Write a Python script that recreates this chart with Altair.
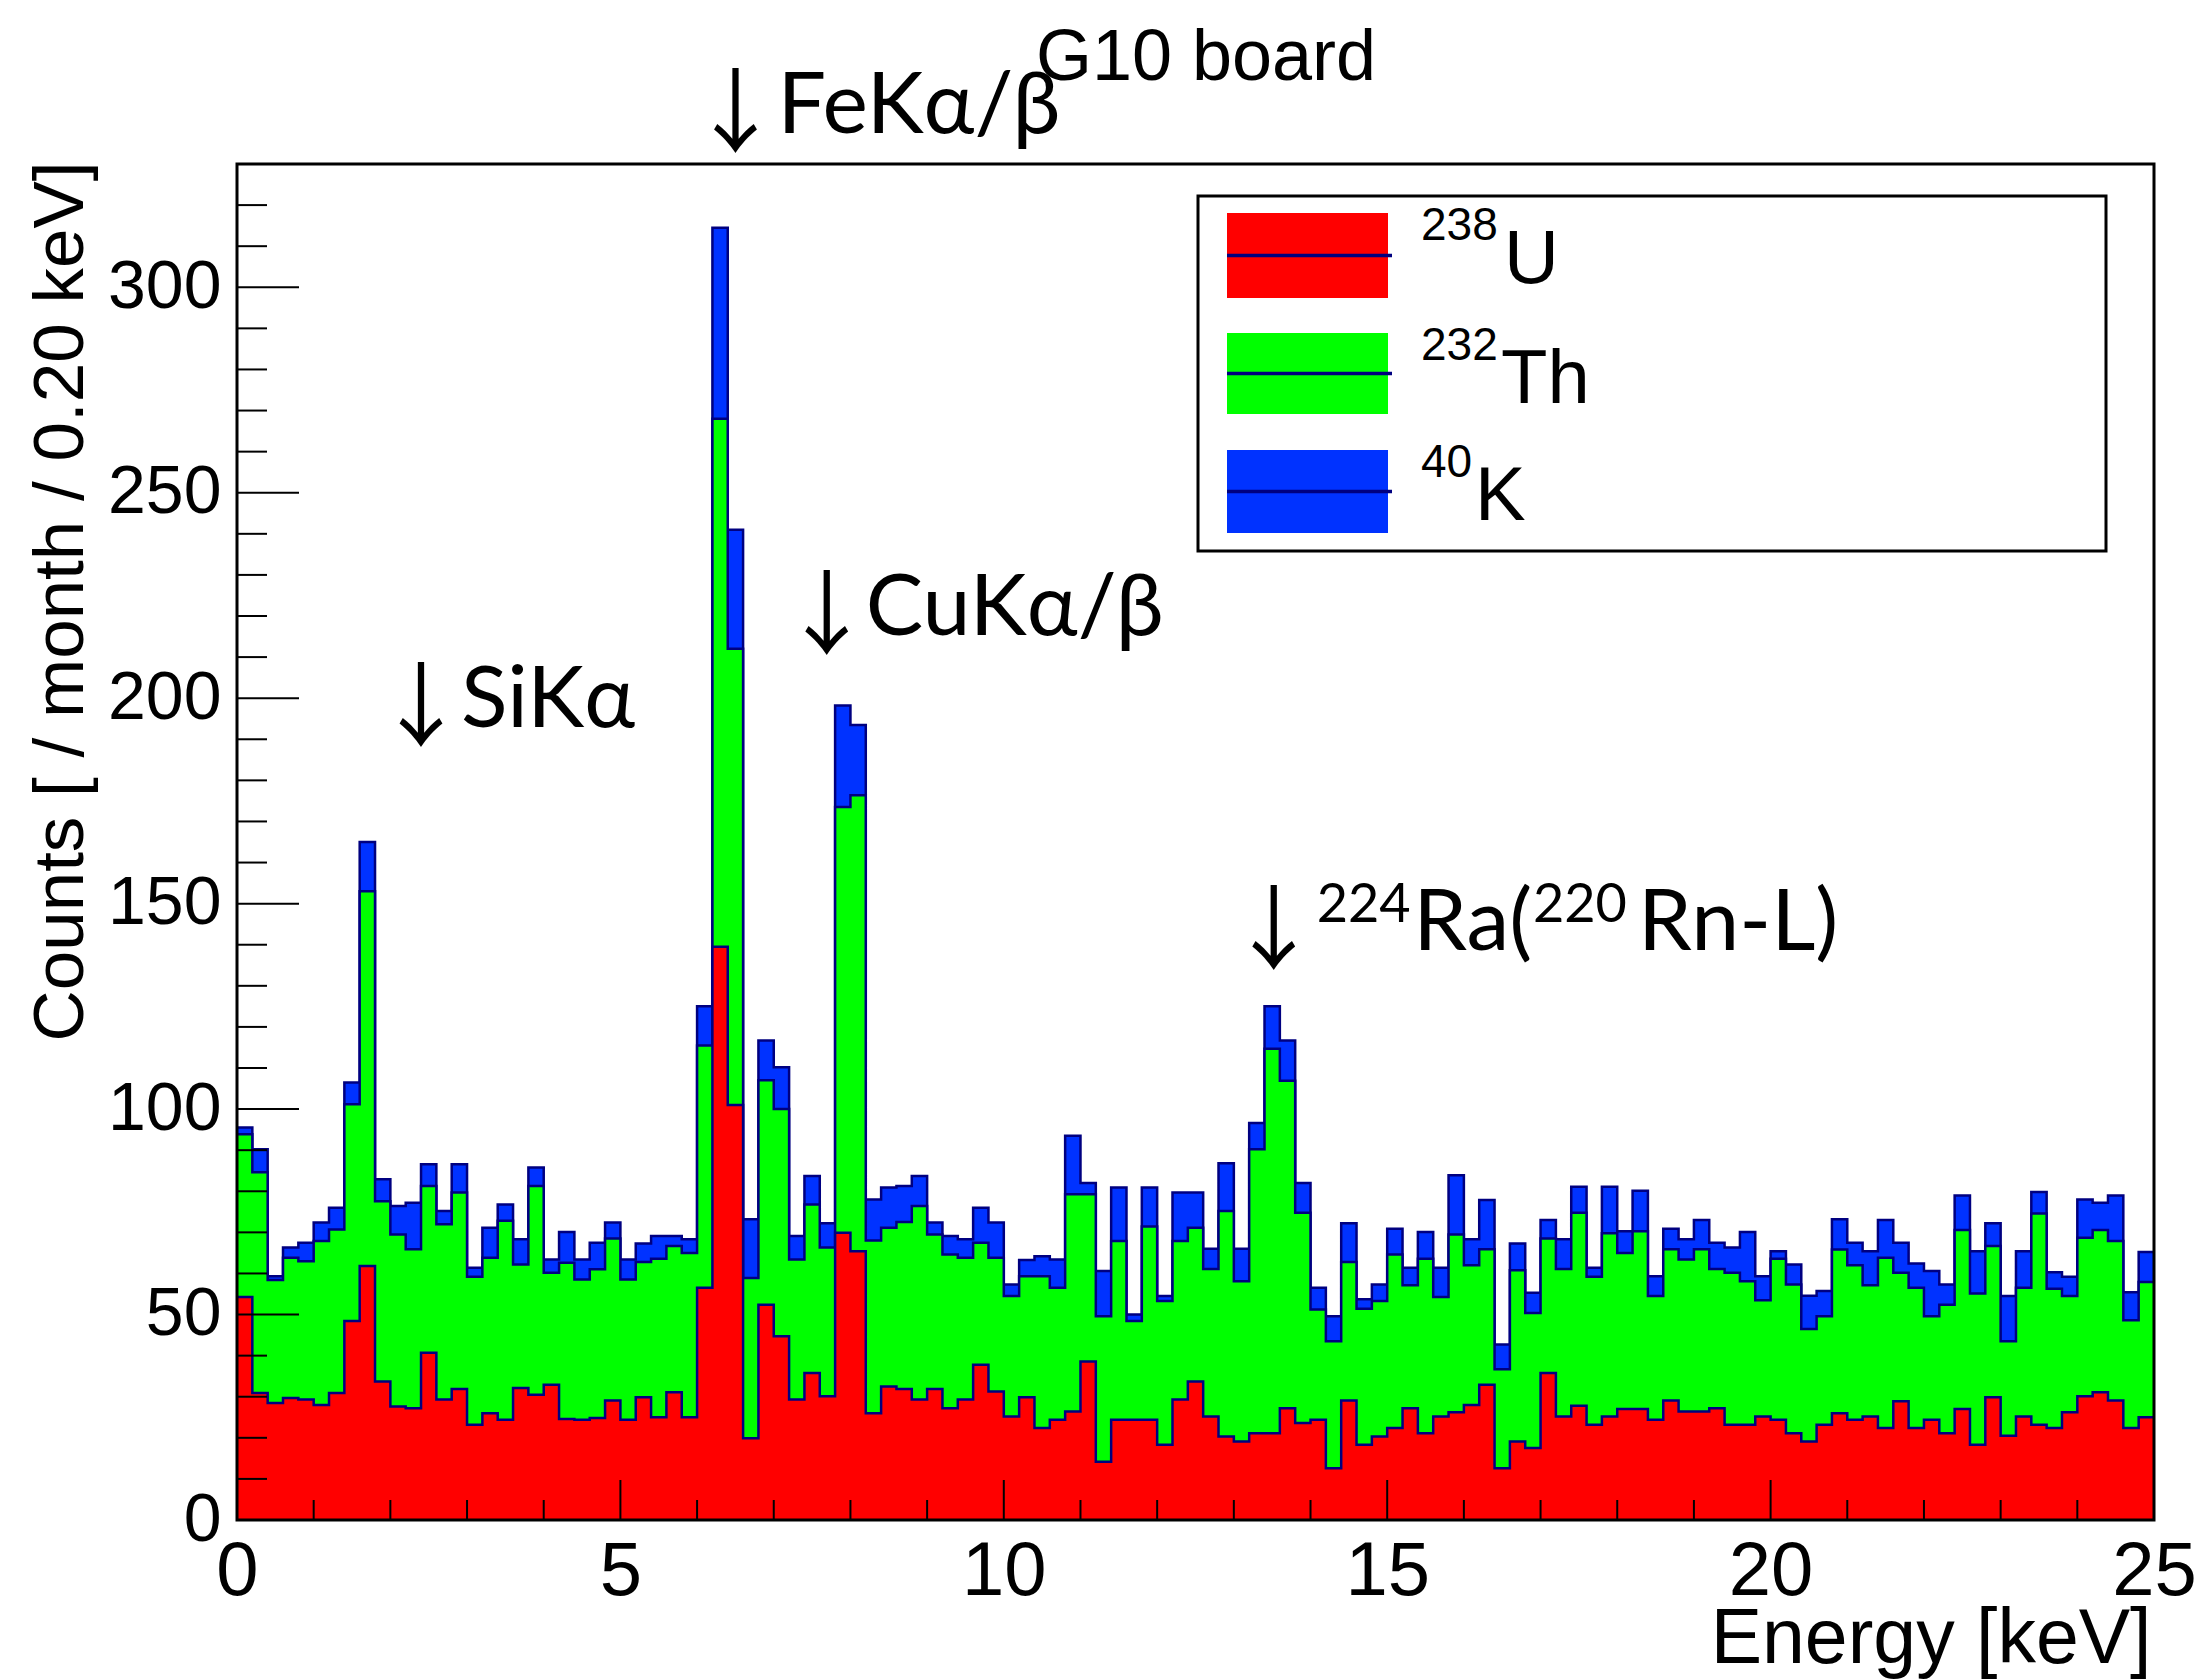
import altair as alt
import pandas as pd

# ---------------- data ----------------
bin_width_kev = 0.2
n_bins = 125

# 238U contribution (red, bottom of the stack)
u238 = [54.3, 30.9, 28.5, 29.7, 29.3, 28.0, 30.9, 48.4, 61.8, 33.7,
        27.6, 27.2, 40.7, 29.3, 31.9, 23.2, 26.0, 24.4, 32.1, 30.5,
        32.9, 24.6, 24.4, 24.8, 29.1, 24.4, 29.9, 25.0, 31.1, 25.0,
        56.5, 139.5, 101.0, 19.9, 52.4, 44.7, 29.3, 35.8, 30.1, 69.9,
        65.4, 26.0, 32.5, 31.9, 29.3, 31.9, 27.2, 29.3, 37.8, 31.3,
        25.2, 29.9, 22.4, 24.4, 26.4, 38.6, 14.2, 24.4, 24.4, 24.4,
        18.3, 29.3, 33.7, 25.2, 20.3, 19.1, 21.1, 21.1, 27.2, 23.6,
        24.4, 12.6, 29.1, 18.3, 20.3, 22.4, 27.2, 21.1, 25.2, 26.2,
        28.0, 32.9, 12.6, 19.1, 17.5, 35.8, 25.2, 27.8, 23.2, 25.2,
        27.0, 27.0, 24.4, 29.1, 26.4, 26.4, 27.2, 23.2, 23.2, 25.2,
        24.4, 21.1, 19.1, 23.2, 26.0, 24.4, 25.2, 22.4, 28.9, 22.4,
        24.4, 21.1, 27.0, 18.3, 29.9, 20.5, 25.2, 23.2, 22.4, 26.2,
        30.1, 31.1, 29.1, 22.4, 25.0]

# 238U + 232Th (top of the green)
u238_th232 = [93.9, 84.6, 58.4, 63.8, 63.0, 67.9, 70.7, 101.2, 153.0, 77.6,
              69.5, 65.9, 81.3, 72.0, 79.7, 59.2, 63.8, 72.8, 62.2, 81.3,
              60.2, 62.6, 58.5, 61.0, 68.5, 58.5, 62.8, 63.6, 66.7, 65.0,
              115.5, 268.0, 212.0, 58.9, 107.0, 100.0, 63.4, 76.8, 66.3, 173.5,
              176.4, 68.0, 71.1, 72.5, 76.4, 69.5, 64.6, 63.8, 67.5, 63.8,
              54.5, 59.3, 59.3, 56.5, 79.3, 79.3, 49.6, 67.9, 48.4, 71.4,
              53.3, 67.9, 71.1, 61.1, 75.2, 58.1, 90.2, 114.7, 106.9, 74.8,
              51.2, 43.5, 62.8, 51.4, 53.3, 64.6, 57.1, 63.6, 54.3, 69.5,
              62.0, 65.9, 36.7, 60.8, 50.4, 68.5, 61.1, 74.8, 59.2, 69.8,
              65.0, 70.3, 54.5, 65.9, 63.4, 65.9, 61.1, 60.2, 58.1, 53.5,
              63.6, 57.3, 46.5, 49.6, 65.8, 62.0, 57.1, 63.8, 60.2, 56.5,
              49.6, 52.4, 70.6, 55.1, 66.7, 43.5, 56.5, 74.6, 56.3, 54.5,
              68.7, 70.6, 67.9, 48.6, 57.9]

# 238U + 232Th + 40K (top of the blue)
total = [95.5, 90.2, 59.3, 66.3, 67.5, 72.4, 76.0, 106.5, 165.0, 82.9,
         76.4, 77.2, 86.6, 75.2, 86.6, 61.4, 71.1, 76.8, 68.3, 85.8,
         63.4, 70.1, 63.4, 67.5, 72.4, 63.4, 67.3, 69.1, 69.1, 68.3,
         125.0, 314.5, 241.0, 73.2, 116.7, 110.2, 69.1, 83.7, 72.2, 198.2,
         193.5, 78.0, 80.9, 81.3, 83.7, 72.4, 69.1, 68.3, 76.0, 72.4,
         57.3, 63.3, 64.2, 63.4, 93.5, 82.0, 60.6, 80.9, 50.0, 80.9,
         54.5, 79.7, 79.7, 66.0, 86.8, 66.0, 96.6, 125.0, 116.7, 82.0,
         56.5, 49.6, 72.2, 53.7, 57.3, 70.9, 61.4, 70.1, 61.4, 83.9,
         68.3, 77.9, 42.7, 67.3, 55.3, 73.0, 68.3, 81.1, 61.4, 81.1,
         70.3, 80.1, 59.3, 70.9, 68.3, 73.0, 67.5, 66.3, 70.1, 59.3,
         65.4, 62.2, 54.6, 55.7, 73.2, 67.5, 65.4, 73.0, 67.5, 62.4,
         60.6, 57.3, 79.0, 65.4, 72.2, 54.5, 65.4, 79.8, 60.3, 59.2,
         78.0, 77.2, 79.0, 55.4, 65.2]

x_tick_labels = [0, 5, 10, 15, 20, 25]
y_tick_labels = [0, 50, 100, 150, 200, 250, 300]
x_minor_ticks = list(range(0, 26))
y_minor_ticks = list(range(0, 330, 10))

legend_sup = ["238", "232", "40"]
legend_name = ["U", "Th", "K"]

# annotation pieces: (energy keV, counts, text, kind)
annotations = [
    (1.80, 190.0, "↓", "arrow"), (2.92, 193.0, "SiKα", "main"),
    (5.90, 334.6, "↓", "arrow"), (7.05, 337.6, "FeKα/β", "main"),
    (7.09, 212.4, "↓", "arrow"), (8.20, 215.4, "CuKα/β", "main"),
    (12.92, 135.7, "↓", "arrow"), (14.08, 145.5, "224", "sup"),
    (15.34, 138.7, "Ra(", "main"), (16.90, 145.5, "220", "sup"),
    (18.27, 138.7, "Rn-L)", "main"),
]

# ---------------- styling ----------------
W, H = 1917, 1356
RED, GREEN, BLUE, NAVY = "#ff0000", "#00ff00", "#0032ff", "#000080"
ROOTFONT = "Liberation Sans"
ANNFONT = "Lato, Open Sans, sans-serif"
ARROWFONT = "Noto Sans CJK JP, DejaVu Sans"

xs = alt.Scale(domain=[0, 25], nice=False, zero=False)
ys = alt.Scale(domain=[0, 330], nice=False)

edges = [round(i * bin_width_kev, 1) for i in range(n_bins + 1)]


def step_frame(vals):
    return pd.DataFrame({"E": edges, "c": list(vals) + [vals[-1]]})


x_axis = alt.Axis(values=x_tick_labels, format="d", grid=False, ticks=False, tickSize=0,
                  domain=False, labelFont=ROOTFONT, labelFontSize=76, labelColor="black",
                  labelBaseline="alphabetic", labelPadding=74, labelFlush=False,
                  labelOverlap=False, title="Energy [keV]", titleFont=ROOTFONT,
                  titleFontSize=77, titleFontWeight="normal", titleColor="black",
                  titleAlign="right", titleBaseline="alphabetic", titleX=1914, titleY=142)
y_axis = alt.Axis(values=y_tick_labels, format="d", grid=False, ticks=False, tickSize=0,
                  domain=False, labelFont=ROOTFONT, labelFontSize=68, labelColor="black",
                  labelPadding=16, labelFlush=False, labelOverlap=False,
                  title="Counts [ / month / 0.20 keV]", titleFont=ROOTFONT, titleFontSize=71,
                  titleFontWeight="normal", titleColor="black", titleAngle=270,
                  titleAlign="right", titleBaseline="alphabetic", titleX=-155, titleY=-3)


def X():
    return alt.X("E:Q", scale=xs, axis=x_axis)


def Y():
    return alt.Y("c:Q", scale=ys, axis=y_axis)


def hist_area(vals, color):
    return alt.Chart(step_frame(vals)).mark_area(interpolate="step-after", color=color).encode(
        x=X(), y=Y())


def hist_line(vals):
    return alt.Chart(step_frame(vals)).mark_line(
        interpolate="step-after", color=NAVY, strokeWidth=2.5).encode(x=X(), y=Y())


layers = [
    hist_area(total, BLUE), hist_line(total),
    hist_area(u238_th232, GREEN), hist_line(u238_th232),
    hist_area(u238, RED), hist_line(u238),
]

# ticks drawn inside the frame (ROOT style)
y_minor = [v for v in y_minor_ticks if v not in y_tick_labels]
x_minor = [v for v in x_minor_ticks if v not in x_tick_labels]
for vals, length in [(y_minor, 30), (y_tick_labels, 62)]:
    layers.append(alt.Chart(pd.DataFrame({"c": vals})).mark_rule(color="black", strokeWidth=2).encode(
        y=Y(), x=alt.value(0), x2=alt.value(length)))
for vals, length in [(x_minor, 20), (x_tick_labels, 40)]:
    layers.append(alt.Chart(pd.DataFrame({"E": vals})).mark_rule(color="black", strokeWidth=2).encode(
        x=X(), y=alt.value(H), y2=alt.value(H - length)))

# frame
one = pd.DataFrame({"a": [0]})
layers.append(alt.Chart(one).mark_rect(fillOpacity=0, stroke="black", strokeWidth=3).encode(
    x=alt.value(0), x2=alt.value(W), y=alt.value(0), y2=alt.value(H)))

# title
layers.append(alt.Chart(one).mark_text(text="G10 board", font=ROOTFONT, fontSize=72,
                                        align="center", baseline="alphabetic", color="black").encode(
    x=alt.value(969), y=alt.value(-84)))

# annotations
ann = pd.DataFrame(annotations, columns=["E", "c", "t", "kind"])
styles = {"arrow": dict(font=ARROWFONT, fontSize=92),
          "main": dict(font=ANNFONT, fontSize=86),
          "sup": dict(font=ANNFONT, fontSize=54)}
for kind, st in styles.items():
    layers.append(alt.Chart(ann[ann["kind"] == kind]).mark_text(
        align="left", baseline="alphabetic", color="black", **st).encode(
        x=X(), y=Y(), text="t:N"))

# legend
layers.append(alt.Chart(one).mark_rect(fill="white", stroke="black", strokeWidth=3).encode(
    x=alt.value(961), x2=alt.value(1869), y=alt.value(32), y2=alt.value(387)))
patch_tops = [49, 169, 286]
patch_h = [85, 81, 83]
name_dx = [1267, 1264, 1238]
for i, col in enumerate([RED, GREEN, BLUE]):
    top = patch_tops[i]
    mid = top + patch_h[i] / 2
    layers.append(alt.Chart(one).mark_rect(color=col).encode(
        x=alt.value(990), x2=alt.value(1151), y=alt.value(top), y2=alt.value(top + patch_h[i])))
    layers.append(alt.Chart(one).mark_rule(color=NAVY, strokeWidth=3.5).encode(
        x=alt.value(990), x2=alt.value(1155), y=alt.value(mid)))
    layers.append(alt.Chart(one).mark_text(text=legend_sup[i], font=ROOTFONT, fontSize=46,
                                            align="left", baseline="alphabetic", color="black").encode(
        x=alt.value(1184), y=alt.value(top + 27)))
    layers.append(alt.Chart(one).mark_text(text=legend_name[i], font=ROOTFONT, fontSize=76,
                                            align="left", baseline="alphabetic", color="black").encode(
        x=alt.value(name_dx[i]), y=alt.value(top + 70)))

chart = alt.layer(*layers).properties(
    width=W, height=H,
    padding={"left": 237, "top": 164, "right": 43, "bottom": 160},
    autosize=alt.AutoSizeParams(type="none"),
    background="white",
).configure_view(stroke=None)

chart.save("out.html", embed_options={"renderer": "svg", "actions": False})
